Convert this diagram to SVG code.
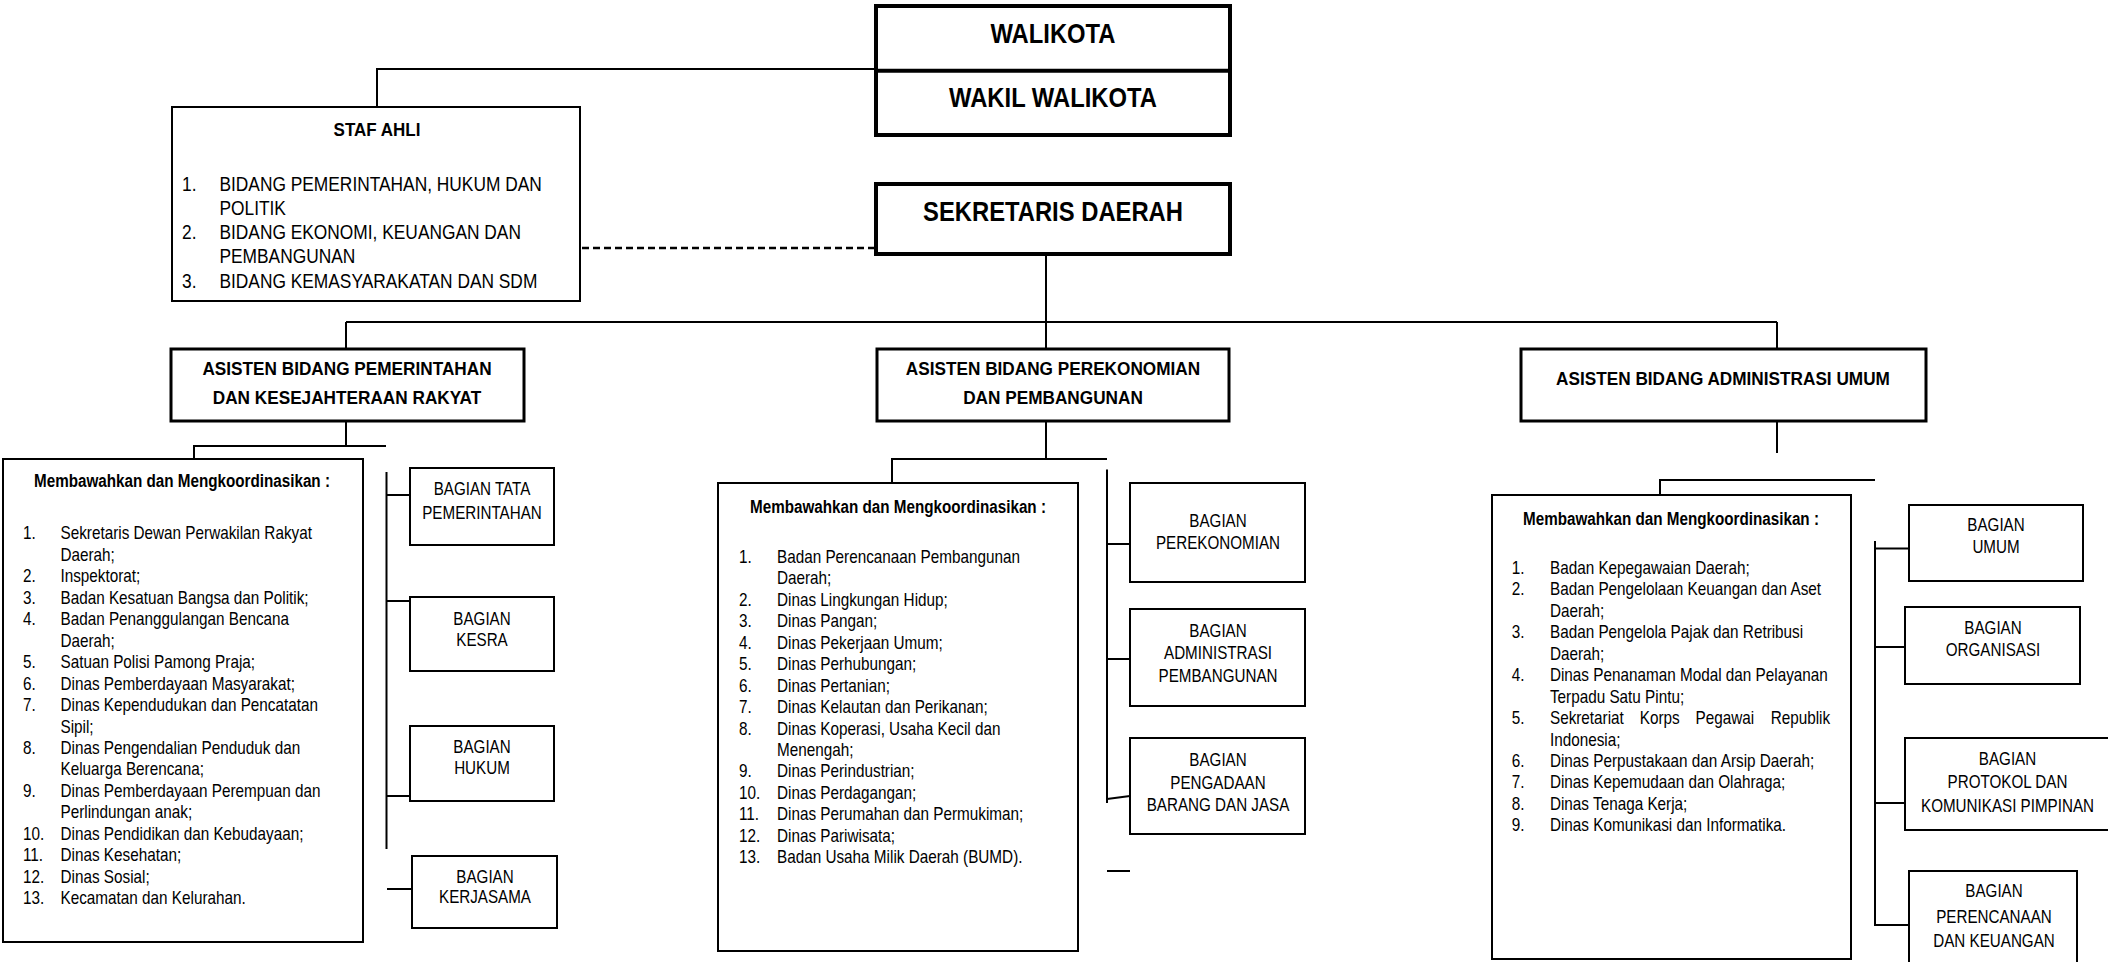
<svg xmlns="http://www.w3.org/2000/svg" width="2108" height="962" viewBox="0 0 2108 962">
<style>
.b4{fill:#fff;stroke:#000;stroke-width:4}
.b3{fill:#fff;stroke:#000;stroke-width:3}
.b2{fill:#fff;stroke:#000;stroke-width:2}
.ln{stroke:#000;stroke-width:2;fill:none}
.ln4{stroke:#000;stroke-width:4;fill:none}
.dash{stroke:#000;stroke-width:2.5;fill:none;stroke-dasharray:7 4}
text{font-family:"Liberation Sans",Arial,Helvetica,sans-serif;fill:#000}
.top{font-weight:bold;font-size:28px;text-anchor:middle}
.hd{font-weight:bold;font-size:18.5px;text-anchor:middle}
.mt{font-weight:bold;font-size:17.5px;text-anchor:middle}
.li{font-size:18px}
.sa{font-size:19.5px}
.bg{font-size:19px;text-anchor:middle}
</style>
<rect width="2108" height="962" fill="#fff"/>

<g id="connectors">
  <polyline class="ln" points="377,107 377,69 876,69"/>
  <line class="dash" x1="582" y1="248" x2="876" y2="248"/>
  <line class="ln" x1="1046" y1="254" x2="1046" y2="322"/>
  <line class="ln" x1="346" y1="322" x2="1777" y2="322"/>
  <line class="ln" x1="346" y1="322" x2="346" y2="349"/>
  <line class="ln" x1="1046" y1="322" x2="1046" y2="349"/>
  <line class="ln" x1="1777" y1="322" x2="1777" y2="349"/>
  <!-- column 1 -->
  <polyline class="ln" points="346,421 346,446"/>
  <polyline class="ln" points="194,459 194,446 386,446"/>
  <line class="ln" x1="386.5" y1="472" x2="386.5" y2="849"/>
  <line class="ln" x1="386.5" y1="495" x2="410" y2="495"/>
  <line class="ln" x1="386.5" y1="601" x2="410" y2="601"/>
  <line class="ln" x1="386.5" y1="796" x2="410" y2="796"/>
  <line class="ln" x1="387" y1="889" x2="412" y2="889"/>
  <!-- column 2 -->
  <polyline class="ln" points="1046,421 1046,459"/>
  <polyline class="ln" points="892,483 892,459 1107,459"/>
  <line class="ln" x1="1107" y1="469.5" x2="1107" y2="803"/>
  <line class="ln" x1="1107" y1="544" x2="1130" y2="544"/>
  <line class="ln" x1="1107" y1="659" x2="1130" y2="659"/>
  <line class="ln" x1="1107" y1="799" x2="1130" y2="796"/>
  <line class="ln" x1="1107" y1="871" x2="1130" y2="871"/>
  <!-- column 3 -->
  <line class="ln" x1="1777" y1="421" x2="1777" y2="453"/>
  <polyline class="ln" points="1660,495 1660,480 1875,480"/>
  <line class="ln" x1="1875" y1="541" x2="1875" y2="926"/>
  <line class="ln" x1="1875" y1="548.5" x2="1909" y2="548.5"/>
  <line class="ln" x1="1875" y1="647" x2="1905" y2="647"/>
  <line class="ln" x1="1875" y1="803" x2="1905" y2="803"/>
  <line class="ln" x1="1875" y1="925" x2="1909" y2="925"/>
</g>

<g id="walikota">
  <rect class="b4" x="876" y="6" width="354" height="129"/>
  <line class="ln4" x1="876" y1="70.7" x2="1230" y2="70.7"/>
  <text class="top" transform="translate(1053,42.7) scale(0.85,1)">WALIKOTA</text>
  <text class="top" transform="translate(1053,107.3) scale(0.85,1)">WAKIL WALIKOTA</text>
</g>

<g id="sekda">
  <rect class="b4" x="876" y="184" width="354" height="70"/>
  <text class="top" transform="translate(1053,221) scale(0.85,1)">SEKRETARIS DAERAH</text>
</g>

<g id="staf-ahli">
  <rect class="b2" x="172" y="107" width="408" height="194"/>
  <text class="hd" transform="translate(377,135.5) scale(0.92,1)">STAF AHLI</text>
  <g transform="translate(182,0) scale(0.89,1)">
    <text class="sa"><tspan x="0" y="190.7">1.</tspan><tspan x="0" y="239.3">2.</tspan><tspan x="0" y="288.3">3.</tspan></text>
    <text class="sa"><tspan x="42.1" y="190.7">BIDANG PEMERINTAHAN, HUKUM DAN</tspan><tspan x="42.1" y="215">POLITIK</tspan><tspan x="42.1" y="239.3">BIDANG EKONOMI, KEUANGAN DAN</tspan><tspan x="42.1" y="263.3">PEMBANGUNAN</tspan><tspan x="42.1" y="288.3">BIDANG KEMASYARAKATAN DAN SDM</tspan></text>
  </g>
</g>

<g id="asisten-1">
  <rect class="b3" x="171" y="349" width="353" height="72"/>
  <text class="hd" transform="translate(347,375) scale(0.93,1)">ASISTEN BIDANG PEMERINTAHAN</text>
  <text class="hd" transform="translate(347,403.5) scale(0.93,1)">DAN KESEJAHTERAAN RAKYAT</text>
</g>

<g id="asisten-2">
  <rect class="b3" x="877" y="349" width="352" height="72"/>
  <text class="hd" transform="translate(1053,375) scale(0.93,1)">ASISTEN BIDANG PEREKONOMIAN</text>
  <text class="hd" transform="translate(1053,403.5) scale(0.93,1)">DAN PEMBANGUNAN</text>
</g>

<g id="asisten-3">
  <rect class="b3" x="1521" y="349" width="405" height="72"/>
  <text class="hd" transform="translate(1723,385) scale(0.93,1)">ASISTEN BIDANG ADMINISTRASI UMUM</text>
</g>

<g id="membawahkan-1">
  <rect class="b2" x="3" y="459" width="360" height="483"/>
  <text class="mt" transform="translate(182,487) scale(0.87,1)">Membawahkan dan Mengkoordinasikan :</text>
  <g transform="translate(23,0) scale(0.85,1)">
    <text class="li"><tspan x="0" y="539.5">1.</tspan><tspan x="0" y="582.4">2.</tspan><tspan x="0" y="603.9">3.</tspan><tspan x="0" y="625.3">4.</tspan><tspan x="0" y="668.2">5.</tspan><tspan x="0" y="689.7">6.</tspan><tspan x="0" y="711.1">7.</tspan><tspan x="0" y="754">8.</tspan><tspan x="0" y="796.9">9.</tspan><tspan x="0" y="839.8">10.</tspan><tspan x="0" y="861.3">11.</tspan><tspan x="0" y="882.7">12.</tspan><tspan x="0" y="904.2">13.</tspan></text>
    <text class="li"><tspan x="44.1" y="539.5">Sekretaris Dewan Perwakilan Rakyat</tspan><tspan x="44.1" y="561">Daerah;</tspan><tspan x="44.1" y="582.4">Inspektorat;</tspan><tspan x="44.1" y="603.9">Badan Kesatuan Bangsa dan Politik;</tspan><tspan x="44.1" y="625.3">Badan Penanggulangan Bencana</tspan><tspan x="44.1" y="646.8">Daerah;</tspan><tspan x="44.1" y="668.2">Satuan Polisi Pamong Praja;</tspan><tspan x="44.1" y="689.7">Dinas Pemberdayaan Masyarakat;</tspan><tspan x="44.1" y="711.1">Dinas Kependudukan dan Pencatatan</tspan><tspan x="44.1" y="732.6">Sipil;</tspan><tspan x="44.1" y="754">Dinas Pengendalian Penduduk dan</tspan><tspan x="44.1" y="775.5">Keluarga Berencana;</tspan><tspan x="44.1" y="796.9">Dinas Pemberdayaan Perempuan dan</tspan><tspan x="44.1" y="818.4">Perlindungan anak;</tspan><tspan x="44.1" y="839.8">Dinas Pendidikan dan Kebudayaan;</tspan><tspan x="44.1" y="861.3">Dinas Kesehatan;</tspan><tspan x="44.1" y="882.7">Dinas Sosial;</tspan><tspan x="44.1" y="904.2">Kecamatan dan Kelurahan.</tspan></text>
  </g>
</g>

<g id="bagian-tata-pemerintahan">
  <rect class="b2" x="410" y="468" width="144" height="77"/>
  <g transform="translate(482,0) scale(0.8,1)"><text class="bg"><tspan x="0" y="495">BAGIAN TATA</tspan><tspan x="0" y="519.5">PEMERINTAHAN</tspan></text></g>
</g>
<g id="bagian-kesra">
  <rect class="b2" x="410" y="597" width="144" height="74"/>
  <g transform="translate(482,0) scale(0.8,1)"><text class="bg"><tspan x="0" y="625">BAGIAN</tspan><tspan x="0" y="646.5">KESRA</tspan></text></g>
</g>
<g id="bagian-hukum">
  <rect class="b2" x="410" y="726" width="144" height="75"/>
  <g transform="translate(482,0) scale(0.8,1)"><text class="bg"><tspan x="0" y="753">BAGIAN</tspan><tspan x="0" y="774.5">HUKUM</tspan></text></g>
</g>
<g id="bagian-kerjasama">
  <rect class="b2" x="412" y="856" width="145" height="72"/>
  <g transform="translate(485,0) scale(0.8,1)"><text class="bg"><tspan x="0" y="883">BAGIAN</tspan><tspan x="0" y="903">KERJASAMA</tspan></text></g>
</g>

<g id="membawahkan-2">
  <rect class="b2" x="718" y="483" width="360" height="468"/>
  <text class="mt" transform="translate(898,513) scale(0.87,1)">Membawahkan dan Mengkoordinasikan :</text>
  <g transform="translate(739,0) scale(0.85,1)">
    <text class="li"><tspan x="0" y="563">1.</tspan><tspan x="0" y="605.9">2.</tspan><tspan x="0" y="627.4">3.</tspan><tspan x="0" y="648.8">4.</tspan><tspan x="0" y="670.3">5.</tspan><tspan x="0" y="691.7">6.</tspan><tspan x="0" y="713.2">7.</tspan><tspan x="0" y="734.6">8.</tspan><tspan x="0" y="777.5">9.</tspan><tspan x="0" y="799">10.</tspan><tspan x="0" y="820.4">11.</tspan><tspan x="0" y="841.9">12.</tspan><tspan x="0" y="863.3">13.</tspan></text>
    <text class="li"><tspan x="44.7" y="563">Badan Perencanaan Pembangunan</tspan><tspan x="44.7" y="584.5">Daerah;</tspan><tspan x="44.7" y="605.9">Dinas Lingkungan Hidup;</tspan><tspan x="44.7" y="627.4">Dinas Pangan;</tspan><tspan x="44.7" y="648.8">Dinas Pekerjaan Umum;</tspan><tspan x="44.7" y="670.3">Dinas Perhubungan;</tspan><tspan x="44.7" y="691.7">Dinas Pertanian;</tspan><tspan x="44.7" y="713.2">Dinas Kelautan dan Perikanan;</tspan><tspan x="44.7" y="734.6">Dinas Koperasi, Usaha Kecil dan</tspan><tspan x="44.7" y="756.1">Menengah;</tspan><tspan x="44.7" y="777.5">Dinas Perindustrian;</tspan><tspan x="44.7" y="799">Dinas Perdagangan;</tspan><tspan x="44.7" y="820.4">Dinas Perumahan dan Permukiman;</tspan><tspan x="44.7" y="841.9">Dinas Pariwisata;</tspan><tspan x="44.7" y="863.3">Badan Usaha Milik Daerah (BUMD).</tspan></text>
  </g>
</g>

<g id="bagian-perekonomian">
  <rect class="b2" x="1130" y="483" width="175" height="99"/>
  <g transform="translate(1218,0) scale(0.8,1)"><text class="bg"><tspan x="0" y="527">BAGIAN</tspan><tspan x="0" y="549">PEREKONOMIAN</tspan></text></g>
</g>
<g id="bagian-administrasi-pembangunan">
  <rect class="b2" x="1130" y="609" width="175" height="97"/>
  <g transform="translate(1218,0) scale(0.8,1)"><text class="bg"><tspan x="0" y="637">BAGIAN</tspan><tspan x="0" y="659">ADMINISTRASI</tspan><tspan x="0" y="682">PEMBANGUNAN</tspan></text></g>
</g>
<g id="bagian-pengadaan">
  <rect class="b2" x="1130" y="738" width="175" height="96"/>
  <g transform="translate(1218,0) scale(0.8,1)"><text class="bg"><tspan x="0" y="766">BAGIAN</tspan><tspan x="0" y="789">PENGADAAN</tspan><tspan x="0" y="811">BARANG DAN JASA</tspan></text></g>
</g>

<g id="membawahkan-3">
  <rect class="b2" x="1492" y="495" width="359" height="464"/>
  <text class="mt" transform="translate(1671,525) scale(0.87,1)">Membawahkan dan Mengkoordinasikan :</text>
  <g transform="translate(1511.7,0) scale(0.85,1)">
    <text class="li"><tspan x="0" y="574">1.</tspan><tspan x="0" y="595.5">2.</tspan><tspan x="0" y="638.4">3.</tspan><tspan x="0" y="681.3">4.</tspan><tspan x="0" y="724.2">5.</tspan><tspan x="0" y="767.1">6.</tspan><tspan x="0" y="788.5">7.</tspan><tspan x="0" y="810">8.</tspan><tspan x="0" y="831.4">9.</tspan></text>
    <text class="li"><tspan x="45" y="574">Badan Kepegawaian Daerah;</tspan><tspan x="45" y="595.5">Badan Pengelolaan Keuangan dan Aset</tspan><tspan x="45" y="616.9">Daerah;</tspan><tspan x="45" y="638.4">Badan Pengelola Pajak dan Retribusi</tspan><tspan x="45" y="659.8">Daerah;</tspan><tspan x="45" y="681.3">Dinas Penanaman Modal dan Pelayanan</tspan><tspan x="45" y="702.7">Terpadu Satu Pintu;</tspan><tspan x="45" y="724.2">Sekretariat</tspan><tspan x="150.7" y="724.2">Korps</tspan><tspan x="216.2" y="724.2">Pegawai</tspan><tspan x="304.7" y="724.2">Republik</tspan><tspan x="45" y="745.6">Indonesia;</tspan><tspan x="45" y="767.1">Dinas Perpustakaan dan Arsip Daerah;</tspan><tspan x="45" y="788.5">Dinas Kepemudaan dan Olahraga;</tspan><tspan x="45" y="810">Dinas Tenaga Kerja;</tspan><tspan x="45" y="831.4">Dinas Komunikasi dan Informatika.</tspan></text>
  </g>
</g>

<g id="bagian-umum">
  <rect class="b2" x="1909" y="505" width="174" height="76"/>
  <g transform="translate(1996,0) scale(0.8,1)"><text class="bg"><tspan x="0" y="531">BAGIAN</tspan><tspan x="0" y="553">UMUM</tspan></text></g>
</g>
<g id="bagian-organisasi">
  <rect class="b2" x="1905" y="607" width="175" height="77"/>
  <g transform="translate(1993,0) scale(0.8,1)"><text class="bg"><tspan x="0" y="634.5">BAGIAN</tspan><tspan x="0" y="656">ORGANISASI</tspan></text></g>
</g>
<g id="bagian-protokol">
  <rect class="b2" x="1905" y="738" width="206" height="92"/>
  <g transform="translate(2007.5,0) scale(0.8,1)"><text class="bg"><tspan x="0" y="765.5">BAGIAN</tspan><tspan x="0" y="788">PROTOKOL DAN</tspan><tspan x="0" y="812.5">KOMUNIKASI PIMPINAN</tspan></text></g>
</g>
<g id="bagian-perencanaan">
  <rect class="b2" x="1909" y="871" width="168" height="96"/>
  <g transform="translate(1994,0) scale(0.8,1)"><text class="bg"><tspan x="0" y="897">BAGIAN</tspan><tspan x="0" y="923">PERENCANAAN</tspan><tspan x="0" y="947">DAN KEUANGAN</tspan></text></g>
</g>
</svg>
